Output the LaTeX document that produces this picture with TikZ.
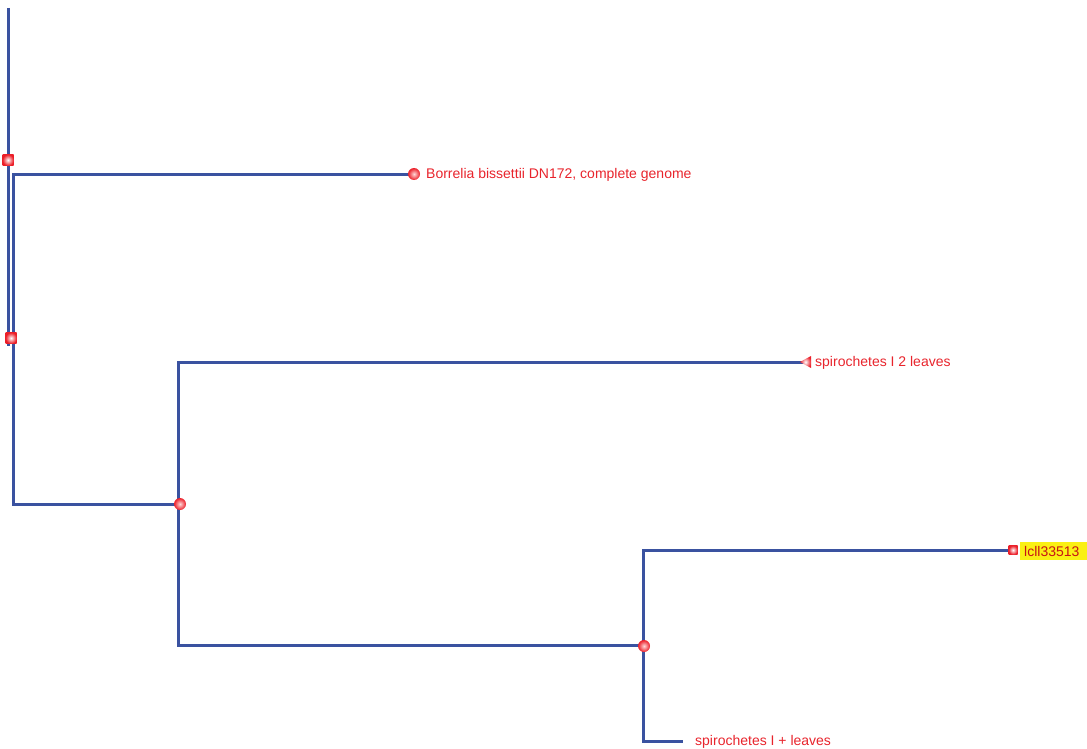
\documentclass[tikz,border=0pt]{standalone}
\usepackage{fontspec}
\setmainfont{Liberation Sans}
\usetikzlibrary{calc}
\definecolor{edgeblue}{RGB}{58,82,160}
\definecolor{labred}{RGB}{232,36,44}
\definecolor{darkred}{RGB}{200,20,20}
\definecolor{hiyel}{RGB}{250,240,20}
\definecolor{mred}{RGB}{235,30,40}
\tikzset{
  edge/.style={draw=edgeblue, line width=3pt},
  ballmark/.style={circle, inner sep=0pt, minimum size=12pt, inner color=red!15, outer color=mred},
  sqmark/.style={rectangle, inner sep=0pt, minimum size=11pt, inner color=white, outer color=mred},
  leaflabel/.style={anchor=west, inner sep=0pt, text=labred, font=\fontsize{14pt}{16pt}\selectfont},
}
\begin{document}
\begin{tikzpicture}[x=1pt, y=-1pt]
\useasboundingbox (0,0) rectangle (1087,749);
% tree coordinates
\coordinate (top) at (8,8);
\coordinate (rootend) at (8,346);
\coordinate (ca) at (13,174);
\coordinate (cb) at (13,504);
\coordinate (n3) at (178,504);
\coordinate (n4) at (643,645);
\coordinate (leaf1) at (414,174);
\coordinate (leaf2) at (806,362);
\coordinate (leaf3) at (1012,550);
\coordinate (leaf4) at (683,741);
% edges
\draw[edge] (top) -- (rootend);
\draw[edge] (leaf1) -- (ca) -- (cb) -- (n3);
\draw[edge] (leaf2) -| (n3) |- (n4);
\draw[edge] (leaf3) -| (n4) |- (leaf4);
% markers
\node[sqmark] (m1) at (8,160) {};
\node[sqmark] (m2) at (11,338) {};
\node[ballmark] (b3) at (180,504) {};
\node[ballmark] (b4) at (644,646) {};
\node[ballmark] (b1) at (414,174) {};
\shade[inner color=white, outer color=mred] (800,362) -- (811,356) -- (811,368) -- cycle;
\node[sqmark, minimum size=9pt] (m3) at (1013,550) {};
% labels
\node[leaflabel] (t1) at (426,174.5) {Borrelia bissettii DN172, complete genome};
\node[leaflabel] (t2) at (815,362.5) {spirochetes I 2 leaves};
\node[leaflabel] (t4) at (695,741.5) {spirochetes I + leaves};
\fill[hiyel] (1020,542) rectangle (1087,560);
\node[leaflabel, text=darkred] (t3) at (1024,551) {lcll33513};
\end{tikzpicture}
\end{document}
